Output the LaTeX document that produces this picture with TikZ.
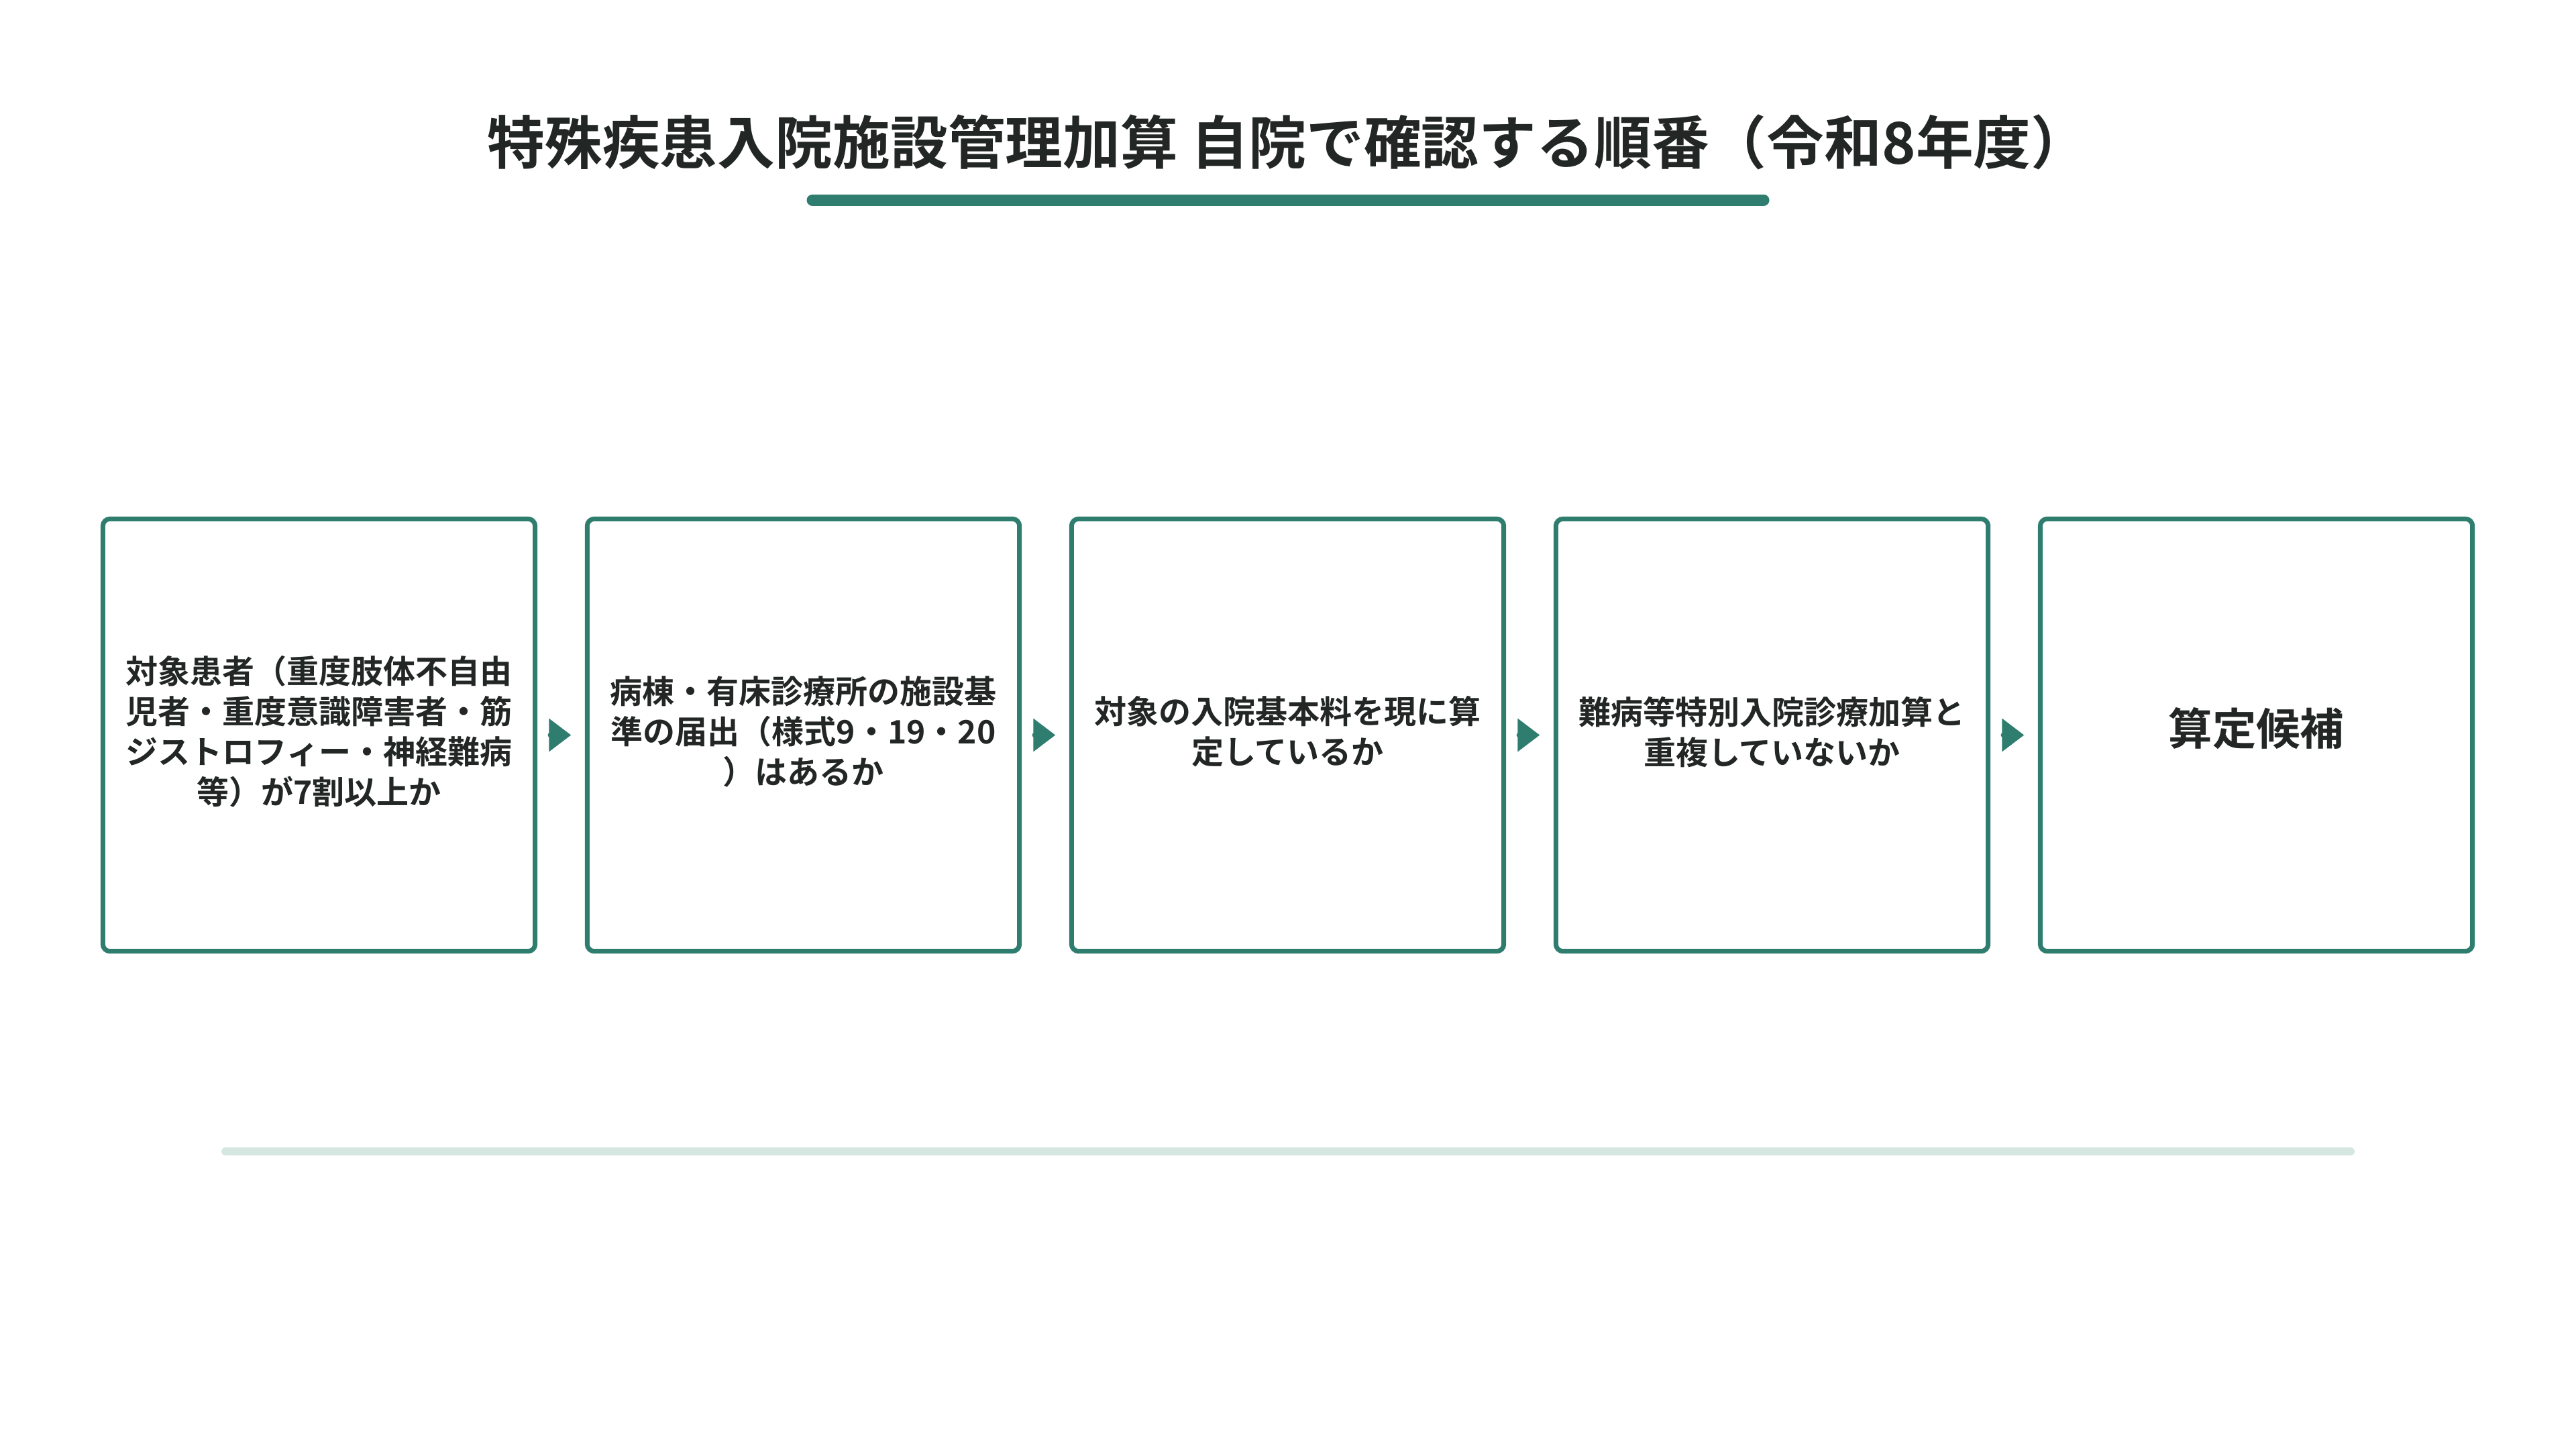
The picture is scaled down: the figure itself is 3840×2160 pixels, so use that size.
\documentclass[tikz,border=0pt]{standalone}
\usepackage{fontspec}
\setmainfont{Noto Sans CJK JP}[BoldFont={Noto Sans CJK JP Bold}]
\usetikzlibrary{arrows.meta}

\definecolor{flowgreen}{HTML}{2E7D6E}
\definecolor{flowtext}{HTML}{222624}
\definecolor{flowrule}{HTML}{D6E6E1}

\tikzset{
  titletext/.style={text=flowtext, font=\bfseries\fontsize{24.4pt}{30pt}\selectfont},
  stepbox/.style={draw=flowgreen, line width=0.07cm, rounded corners=0.105cm,
    minimum width=6.44cm, minimum height=6.44cm, fill=white},
  steptext/.style={text=flowtext, align=center, yshift=1.4pt,
    font=\bfseries\fontsize{13.66pt}{17.07pt}\selectfont},
  nextarrow/.style={flowgreen, line width=0.07cm, line cap=round,
    -{Triangle[length=0.33cm,width=0.48cm]}, shorten <=0.205cm, shorten >=0.205cm}
}

\begin{document}
\begin{tikzpicture}[x=0.01cm,y=-0.01cm]
\useasboundingbox (0,0) rectangle (3840,2160);

%titre%
\node[titletext] (title) at (1920,212) {特殊疾患入院施設管理加算 自院で確認する順番（令和8年度）};
\draw[flowgreen, line width=0.17cm, line cap=round] (1211,298) -- (2629,298);

%etapes%
\node[stepbox] (patients) at (475.5,1095.5) {};
\node[steptext] at (patients) {対象患者（重度肢体不自由\\児者・重度意識障害者・筋\\ジストロフィー・神経難病\\等）が7割以上か};

\node[stepbox] (todokede) at (1197.5,1095.5) {};
\node[steptext] at (todokede) {病棟・有床診療所の施設基\\準の届出（様式9・19・20\\）はあるか};

\node[stepbox] (kihonryo) at (1919.5,1095.5) {};
\node[steptext] at (kihonryo) {対象の入院基本料を現に算\\定しているか};

\node[stepbox] (choufuku) at (2641.5,1095.5) {};
\node[steptext] at (choufuku) {難病等特別入院診療加算と\\重複していないか};

\node[stepbox] (kouho) at (3363.5,1095.5) {};
\node[steptext, yshift=1.4pt, font=\bfseries\fontsize{18.6pt}{22pt}\selectfont] at (kouho) {算定候補};

%fleches%
\draw[nextarrow] (patients) -- (todokede);
\draw[nextarrow] (todokede) -- (kihonryo);
\draw[nextarrow] (kihonryo) -- (choufuku);
\draw[nextarrow] (choufuku) -- (kouho);

\draw[flowrule, line width=0.12cm, line cap=round] (336,1716) -- (3504,1716);
\end{tikzpicture}
\end{document}
